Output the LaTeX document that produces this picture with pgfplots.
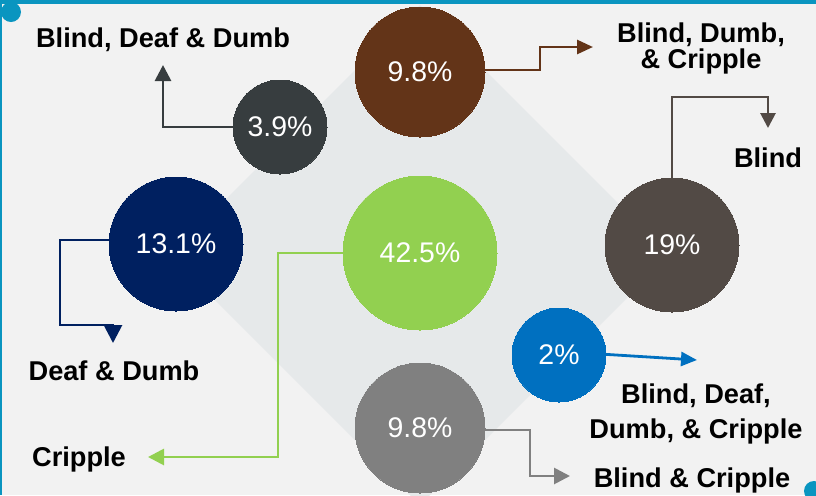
\documentclass[border=0pt]{standalone}
\usepackage{pgfplots}
\pgfplotsset{compat=1.18}
\usepackage{fontspec}
\setmainfont{Liberation Sans}
\usetikzlibrary{arrows.meta}
\definecolor{bg}{HTML}{F2F2F2}
\definecolor{diam}{HTML}{E6E9EA}
\definecolor{tealb}{HTML}{0A95C0}
\definecolor{cA}{HTML}{373D3F}
\definecolor{cB}{HTML}{633418}
\definecolor{cC}{HTML}{002060}
\definecolor{cD}{HTML}{92D050}
\definecolor{cE}{HTML}{524A45}
\definecolor{cF}{HTML}{0070C0}
\definecolor{cG}{HTML}{808080}
\newcommand{\lab}{\fontsize{13.6}{13.6}\selectfont\bfseries}
\begin{document}
\begin{tikzpicture}
\begin{axis}[x=0.5pt,y=0.5pt,y dir=reverse,xmin=0,xmax=816,ymin=0,ymax=495,
  hide axis,scale only axis,
  every node near coord/.style={anchor=center,text=white,font=\fontsize{14.2}{14.2}\selectfont},
  conn/.style={line width=1.4pt,no marks},
  bub/.style={only marks,mark=*,color=#1,mark options={draw=#1,fill=#1,line width=0pt},point meta=explicit symbolic,nodes near coords},
]
\fill[bg] (axis cs:0,0) rectangle (axis cs:816,495);
\fill[diam] (axis cs:420,5) -- (axis cs:670,255) -- (axis cs:420,505) -- (axis cs:170,255) -- cycle;
\fill[tealb] (axis cs:0,0) rectangle (axis cs:816,4);
\fill[tealb] (axis cs:0,0) rectangle (axis cs:2,495);
\fill[tealb] (axis cs:11,12) circle[radius=5pt];
\fill[tealb] (axis cs:814,491) circle[radius=5pt];
% connectors
\addplot[conn,cA,-{Triangle[length=8pt,width=8pt]}] coordinates {(240,127) (163,127) (163,65)};
\addplot[conn,cB,-{Triangle[length=8pt,width=7pt]}] coordinates {(480,70) (540,70) (540,47) (593,47)};
\addplot[conn,cE,-{Triangle[length=7.5pt,width=7.5pt]}] coordinates {(672,185) (672,97) (768,97) (768,128)};
\addplot[conn,cC] coordinates {(115,240) (60,240) (60,325) (113,325)};
\addplot[conn,cC,-{Triangle[length=9pt,width=9pt]}] coordinates {(113,324) (113,343)};
\addplot[conn,cD,-{Triangle[length=8pt,width=8pt]}] coordinates {(350,253) (278,253) (278,457) (148,457)};
\addplot[conn,cF,-{Triangle[length=8pt,width=7pt]}] coordinates {(600,354) (697,360)};
\addplot[conn,cG,-{Triangle[length=8pt,width=8pt]}] coordinates {(480,430) (530,430) (530,476) (570,476)};
% circles
\addplot[bub=cA,mark size=23.5pt] coordinates {(280,127) [3.9\%]};
\addplot[bub=cB,mark size=32.5pt] coordinates {(420,72) [9.8\%]};
\addplot[bub=cC,mark size=33.5pt] coordinates {(176,244) [13.1\%]};
\addplot[bub=cD,mark size=38.5pt] coordinates {(420,253) [42.5\%]};
\addplot[bub=cE,mark size=33.5pt] coordinates {(672,245) [19\%]};
\addplot[bub=cF,mark size=23.5pt] coordinates {(559,355) [2\%]};
\addplot[bub=cG,mark size=32.5pt] coordinates {(420,428) [9.8\%]};
% labels
\node[anchor=base,font=\lab] at (axis cs:163,47) {Blind, Deaf \& Dumb};
\node[anchor=base,font=\lab] at (axis cs:701,42) {Blind, Dumb,};
\node[anchor=base,font=\lab] at (axis cs:701,68) {\& Cripple};
\node[anchor=base,font=\lab] at (axis cs:768,167) {Blind};
\node[anchor=base,font=\lab] at (axis cs:114,380) {Deaf \& Dumb};
\node[anchor=base,font=\lab] at (axis cs:79,466) {Cripple};
\node[anchor=base,font=\lab] at (axis cs:696,403) {Blind, Deaf,};
\node[anchor=base,font=\lab] at (axis cs:696,438) {Dumb, \& Cripple};
\node[anchor=base,font=\lab] at (axis cs:692,487) {Blind \& Cripple};
\end{axis}
\end{tikzpicture}
\end{document}
